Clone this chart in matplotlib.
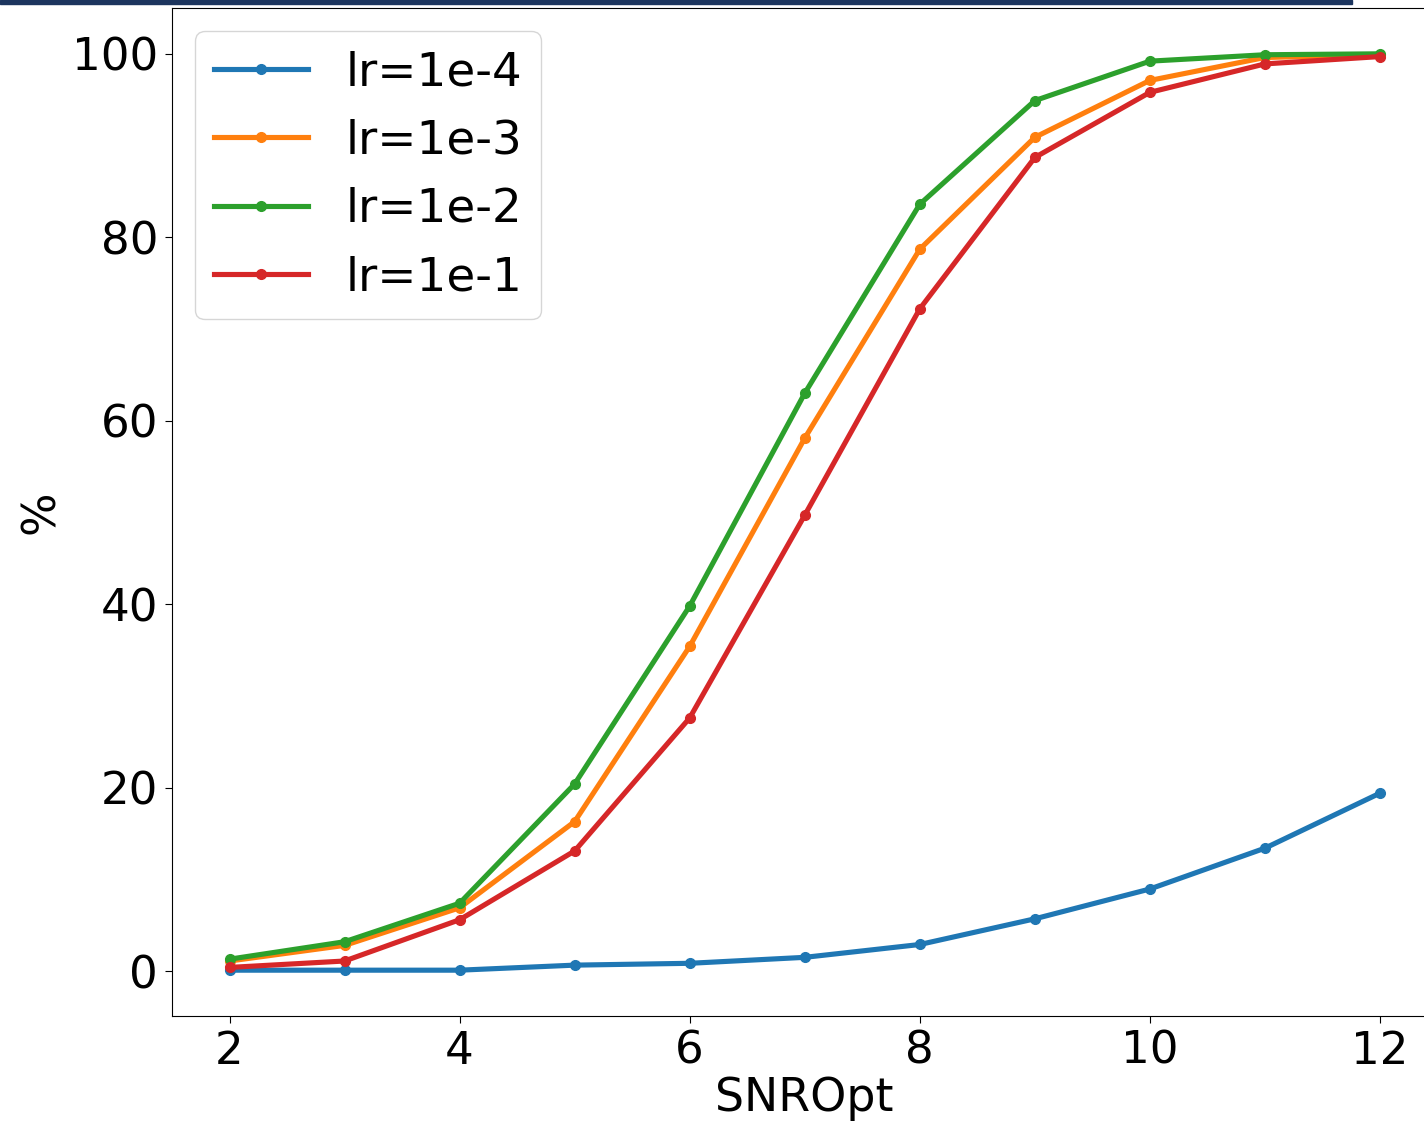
import matplotlib
matplotlib.use("Agg")
import matplotlib.pyplot as plt
from matplotlib.patches import Rectangle

snr = [2, 3, 4, 5, 6, 7, 8, 9, 10, 11, 12]
labels = ["lr=1e-4", "lr=1e-3", "lr=1e-2", "lr=1e-1"]
lr_1e4 = [0.1, 0.1, 0.1, 0.65, 0.85, 1.5, 2.9, 5.7, 8.95, 13.4, 19.4]
lr_1e3 = [1.1, 2.8, 6.9, 16.3, 35.4, 58.1, 78.7, 90.9, 97.1, 99.6, 99.9]
lr_1e2 = [1.3, 3.2, 7.4, 20.4, 39.8, 63.0, 83.6, 94.9, 99.2, 99.9, 100.0]
lr_1e1 = [0.4, 1.1, 5.6, 13.1, 27.6, 49.7, 72.2, 88.7, 95.8, 98.9, 99.7]
series = [lr_1e4, lr_1e3, lr_1e2, lr_1e1]
colors = ["#1f77b4", "#ff7f0e", "#2ca02c", "#d62728"]

fig = plt.figure(figsize=(14.24, 11.26), dpi=100)
ax = fig.add_axes([172/1424, 110/1126, 1265.5/1424, 1008/1126])

for vals, lab, c in zip(series, labels, colors):
    ax.plot(snr, vals, marker="o", lw=3.7, ms=7, color=c, label=lab)

ax.set_xticks([2, 4, 6, 8, 10, 12])
ax.set_yticks([0, 20, 40, 60, 80, 100])
ax.tick_params(labelsize=32.5, length=5, pad=5)
ax.set_xlabel("SNROpt", fontsize=33, labelpad=2)
ax.set_ylabel("%", fontsize=33, labelpad=6)
ax.legend(loc="upper left", fontsize=33.7, borderaxespad=0.5)

fig.patches.append(Rectangle((0, 1 - 4/1126), 1352/1424, 4/1126,
                             transform=fig.transFigure, color="#1c355e", zorder=10))

fig.savefig("out.png", dpi=100)
